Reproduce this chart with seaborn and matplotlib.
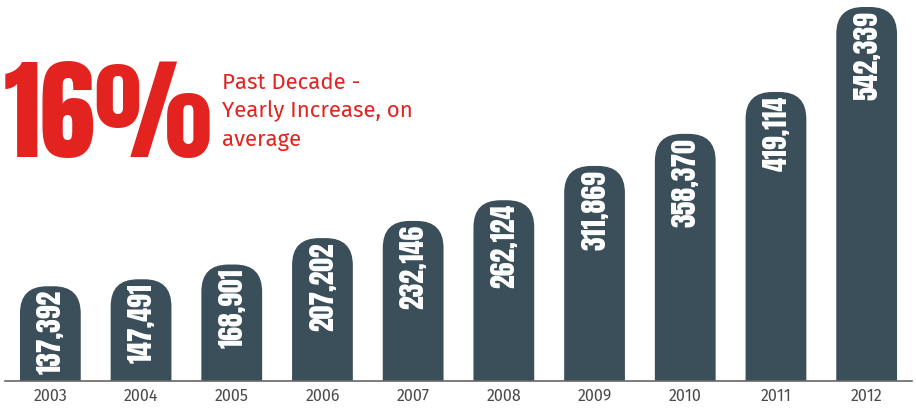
import matplotlib
matplotlib.use("Agg")
import matplotlib.pyplot as plt
import seaborn as sns
import pandas as pd
import numpy as np
from matplotlib.patches import FancyBboxPatch

years = ["2003", "2004", "2005", "2006", "2007", "2008", "2009", "2010", "2011", "2012"]
values = [137392, 147491, 168901, 207202, 232146, 262124, 311869, 358370, 419114, 542339]
value_labels = ["137,392", "147,491", "168,901", "207,202", "232,146",
                "262,124", "311,869", "358,370", "419,114", "542,339"]
headline = "16%"
subtitle = "Past Decade -\nYearly Increase, on\naverage"

BAR = "#3a4f5a"
RED = "#e2231f"
DISPLAY = ["Anton", "DejaVu Sans"]

sns.set_theme(style="white")
plt.rcParams["font.family"] = ["Fira Sans", "DejaVu Sans"]

W, H = 916, 408
fig = plt.figure(figsize=(W / 100, H / 100), dpi=100)
ax = fig.add_axes([5 / W, 27 / H, 907 / W, 381 / H])

df = pd.DataFrame({"year": years, "value": values})
sns.barplot(data=df, x="year", y="value", color=BAR, width=0.67,
            saturation=1, ax=ax)

ymax = max(values) * 381 / 374
ax.set_xlim(-0.5, len(years) - 0.5)
ax.set_ylim(0, ymax)

# pixel scale of the data axes, used to keep the rounded tops circular
px_per_x = 907 / len(years)
px_per_y = 381 / ymax
aspect = px_per_x / px_per_y
radius_px = 27

for p in list(ax.patches):
    x0, w, h = p.get_x(), p.get_width(), p.get_height()
    p.remove()
    r = radius_px / px_per_x
    extra = radius_px / px_per_y
    box = FancyBboxPatch((x0, -extra), w, h + extra,
                         boxstyle=f"round,pad=0,rounding_size={r}",
                         mutation_aspect=aspect, facecolor=BAR,
                         edgecolor="none", clip_on=True)
    ax.add_patch(box)

for i, (v, lab) in enumerate(zip(values, value_labels)):
    ax.annotate(lab, xy=(i, v), xytext=(0, -4), textcoords="offset pixels",
                rotation=90, ha="center", va="top", color="white",
                fontsize=20, family=DISPLAY)

# axis styling: baseline with boundary ticks hanging below
for s in ["top", "right", "left"]:
    ax.spines[s].set_visible(False)
ax.spines["bottom"].set_color("#666666")
ax.spines["bottom"].set_linewidth(1.2)
ax.set_yticks([])
ax.set_xlabel("")
ax.set_ylabel("")
ax.set_xticks(np.arange(len(years)))
ax.set_xticklabels(years, color="#4a4a4a", fontsize=11.5)
ax.tick_params(axis="x", which="major", length=0, pad=5)
ax.set_xticks(np.arange(len(years) + 1) - 0.5, minor=True)
ax.tick_params(axis="x", which="minor", length=7, width=1.2,
               color="#666666", direction="out")

fig.text(4 / W, 1 - 157 / H, headline, color=RED, fontsize=80,
         ha="left", va="baseline", family=DISPLAY)
fig.text(222 / W, 1 - 72 / H, subtitle, color=RED, fontsize=16,
         ha="left", va="top", linespacing=1.42)

fig.savefig("out.png", dpi=100, facecolor="white")
